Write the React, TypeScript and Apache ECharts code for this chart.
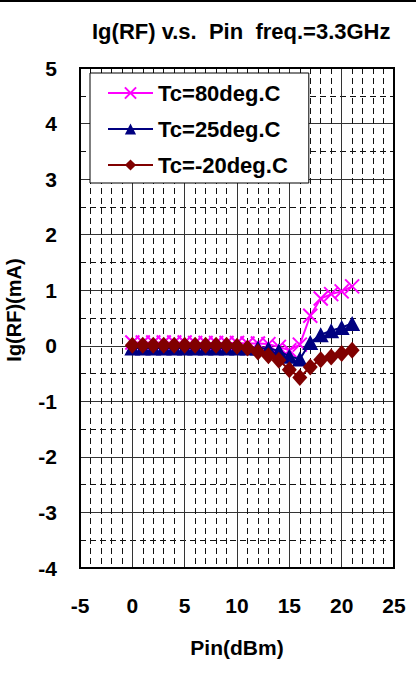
import React, { useEffect, useRef } from "react";
import * as echarts from "echarts";

const pin = [0, 1, 2, 3, 4, 5, 6, 7, 8, 9, 10, 11, 12, 13, 14, 15, 16, 17, 18, 19, 20, 21];
const tc80 = [0.06, 0.06, 0.06, 0.06, 0.06, 0.06, 0.05, 0.05, 0.05, 0.05, 0.05, 0.04, 0.04, 0.03, -0.02, -0.08, 0.02, 0.54, 0.85, 0.93, 0.98, 1.07];
const tc25 = [-0.04, -0.04, -0.04, -0.04, -0.04, -0.04, -0.04, -0.04, -0.04, -0.04, -0.04, -0.04, -0.04, -0.05, -0.09, -0.19, -0.24, 0.06, 0.2, 0.27, 0.33, 0.4];
const tcm20 = [0.01, 0.01, 0.01, 0.01, 0.01, 0.01, 0.01, 0.01, 0.01, 0.01, -0.01, -0.04, -0.11, -0.18, -0.26, -0.43, -0.57, -0.38, -0.25, -0.2, -0.14, -0.08];
const seriesNames = ["Tc=80deg.C", "Tc=25deg.C", "Tc=-20deg.C"];
const titleText = "Ig(RF) v.s.  Pin  freq.=3.3GHz";
const xName = "Pin(dBm)";
const yName = "Ig(RF)(mA)";

const FONT = "'Liberation Sans', Arial, sans-serif";

export default function App() {
  const ref = useRef<HTMLDivElement>(null);
  useEffect(() => {
    if (!ref.current) return;
    const chart = echarts.init(ref.current, undefined, { renderer: "svg" });
    const pairs = (ys: number[]) => pin.map((x, i) => [x, ys[i]]);
    const gridMajor = { show: true, lineStyle: { color: "#333", width: 1 } };
    const gridMinor = { show: true, lineStyle: { color: "#111", width: 1, type: [6, 4] as any } };
    chart.setOption({
      animation: false,
      backgroundColor: "#fff",
      title: {
        text: titleText,
        left: 92,
        top: 20,
        padding: 0,
        textStyle: { fontFamily: FONT, fontSize: 22, fontWeight: "bold", color: "#000" },
      },
      graphic: [
        { type: "rect", left: 0, top: 0, shape: { width: 416, height: 2 }, style: { fill: "#000" } },
        {
          type: "text",
          x: 14,
          y: 310,
          rotation: Math.PI / 2,
          style: {
            text: yName,
            fontFamily: FONT,
            fontSize: 20,
            fontWeight: "bold",
            fill: "#000",
            align: "center",
            verticalAlign: "middle",
          },
        },
      ],
      legend: {
        orient: "vertical",
        left: 90,
        top: 73,
        padding: [9, 21, 7, 17],
        itemGap: 14,
        itemWidth: 45,
        itemHeight: 14,
        backgroundColor: "#fff",
        borderColor: "#000",
        borderWidth: 1,
        borderRadius: 0,
        data: seriesNames,
        textStyle: { fontFamily: FONT, fontSize: 22, fontWeight: "bold", color: "#000", lineHeight: 21 },
      },
      grid: {
        left: 80,
        top: 68,
        right: 22,
        bottom: 108,
        show: true,
        borderColor: "#000",
        borderWidth: 2,
        backgroundColor: "transparent",
        z: 3,
      },
      xAxis: {
        type: "value",
        min: -5,
        max: 25,
        interval: 5,
        name: xName,
        nameLocation: "middle",
        nameGap: 69,
        nameTextStyle: { fontFamily: FONT, fontSize: 21, fontWeight: "bold", color: "#000" },
        axisLine: { show: false },
        axisTick: { show: false },
        axisLabel: { fontFamily: FONT, fontSize: 21, fontWeight: "bold", color: "#000", margin: 27 },
        splitLine: gridMajor,
        minorTick: { show: false, splitNumber: 5 },
        minorSplitLine: gridMinor,
      },
      yAxis: {
        type: "value",
        min: -4,
        max: 5,
        interval: 1,
        axisLine: { show: false },
        axisTick: { show: false },
        axisLabel: { fontFamily: FONT, fontSize: 21, fontWeight: "bold", color: "#000", margin: 23 },
        splitLine: gridMajor,
        minorTick: { show: false, splitNumber: 2 },
        minorSplitLine: gridMinor,
      },
      series: [
        {
          name: seriesNames[0],
          type: "line",
          data: pairs(tc80),
          symbol: "path://M0,0L10,10M10,0L0,10",
          symbolSize: 14,
          showAllSymbol: true,
          lineStyle: { color: "#FF00FF", width: 2 },
          itemStyle: { color: "#FF00FF", borderColor: "#FF00FF", borderWidth: 2 },
          z: 5,
        },
        {
          name: seriesNames[1],
          type: "line",
          data: pairs(tc25),
          symbol: "triangle",
          symbolSize: [16, 15],
          showAllSymbol: true,
          lineStyle: { color: "#000080", width: 2 },
          itemStyle: { color: "#000080", borderColor: "#000080", borderWidth: 0 },
          z: 6,
        },
        {
          name: seriesNames[2],
          type: "line",
          data: pairs(tcm20),
          symbol: "diamond",
          symbolSize: [15, 17],
          showAllSymbol: true,
          lineStyle: { color: "#800000", width: 2 },
          itemStyle: { color: "#800000", borderColor: "#800000", borderWidth: 0 },
          z: 7,
        },
      ],
    });
    return () => chart.dispose();
  }, []);
  return (
    <div
      ref={ref}
      style={{ position: "fixed", left: 0, top: 0, width: 416, height: 676, background: "#fff" }}
    />
  );
}
